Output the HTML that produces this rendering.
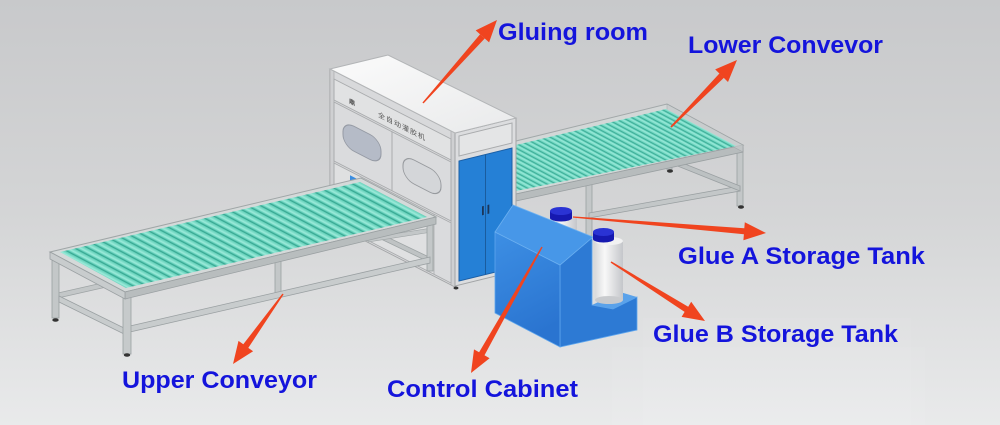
<!DOCTYPE html>
<html><head><meta charset="utf-8">
<style>
html,body{margin:0;padding:0;width:1000px;height:425px;overflow:hidden;background:#d6d7d8}
svg{display:block}
</style></head><body>
<svg width="1000" height="425" viewBox="0 0 1000 425" xmlns="http://www.w3.org/2000/svg">
<defs>
 <linearGradient id="bg" x1="0" y1="0" x2="0" y2="1">
  <stop offset="0" stop-color="#c8c9cb"/>
  <stop offset="0.5" stop-color="#d4d5d6"/>
  <stop offset="1" stop-color="#e9eaeb"/>
 </linearGradient>
 <linearGradient id="topg" x1="0" y1="0" x2="1" y2="1">
  <stop offset="0" stop-color="#fbfbfb"/>
  <stop offset="1" stop-color="#e9eaeb"/>
 </linearGradient>
 <linearGradient id="cabF" x1="0" y1="0" x2="0.3" y2="1">
  <stop offset="0" stop-color="#3d8fe4"/>
  <stop offset="1" stop-color="#2a74d0"/>
 </linearGradient>
 <linearGradient id="tankG" x1="0" y1="0" x2="1" y2="0">
  <stop offset="0" stop-color="#d9dadc"/>
  <stop offset="0.35" stop-color="#f8f8f8"/>
  <stop offset="1" stop-color="#c4c6ca"/>
 </linearGradient>
 <linearGradient id="cyl" x1="0" y1="0" x2="1" y2="0">
  <stop offset="0" stop-color="#4dc2ab"/>
  <stop offset="0.4" stop-color="#9decdb"/>
  <stop offset="1" stop-color="#5fcdb6"/>
 </linearGradient>
 <pattern id="rollL" patternUnits="userSpaceOnUse" width="10" height="100" patternTransform="matrix(0.924,-0.215,0.7,0.37,55,252)">
  <rect width="10" height="100" fill="#3aa893"/>
  <rect x="1.2" width="8.3" height="100" fill="url(#cyl)"/>
 </pattern>
 <pattern id="rollR" patternUnits="userSpaceOnUse" width="10" height="100" patternTransform="matrix(-0.629,0.15,0.73,0.39,667,107)">
  <rect width="10" height="100" fill="#3aa893"/>
  <rect x="1.2" width="8.3" height="100" fill="url(#cyl)"/>
 </pattern>
</defs>

<rect width="1000" height="425" fill="url(#bg)"/>
<rect x="643" y="318" width="268" height="107" fill="#ffffff" opacity="0.06"/>
<rect x="612" y="347" width="313" height="78" fill="#ffffff" opacity="0.05"/>

<!-- ===== RIGHT (LOWER) CONVEYOR ===== -->
<g>
 <rect x="667" y="110" width="5" height="60" fill="#bcc1c2" stroke="#9aa0a2" stroke-width="0.8"/>
 <ellipse cx="670" cy="171" rx="3" ry="1.8" fill="#333"/>
 <rect x="737" y="148" width="6" height="58" fill="#c3c7c8" stroke="#9aa0a2" stroke-width="0.8"/>
 <ellipse cx="741" cy="207" rx="3" ry="1.8" fill="#333"/>
 <rect x="586" y="184" width="6" height="52" fill="#c3c7c8" stroke="#9aa0a2" stroke-width="0.8"/>
 <polygon points="589,213 740,186 740,191 589,218" fill="#c3c7c8" stroke="#9aa0a2" stroke-width="0.8"/>
 <polygon points="670,158 740,186 740,191 670,163" fill="#bcc1c2" stroke="#9aa0a2" stroke-width="0.8"/>
 <polygon points="516,141 667,104 743,145 516,194" fill="#d3d7d7" stroke="#a2a8a9" stroke-width="1"/>
 <polygon points="516,194 743,145 743,152 516,201" fill="#b7bcbd" stroke="#9aa0a2" stroke-width="0.8"/>
 <polygon points="667,104 743,145 743,152 667,111" fill="#c6cacb" stroke="#9aa0a2" stroke-width="0.6" opacity="0.7"/>
 <polygon points="516,145 666,109 736,146 516,191" fill="url(#rollR)"/>
</g>

<!-- ===== GLUING ROOM BOX ===== -->
<g>
 <g transform="translate(330,69) matrix(1,0.512,0,1,0,0)">
  <rect x="0" y="0" width="125" height="154" fill="#d8d9db" stroke="#a2a4a6" stroke-width="1"/>
  <rect x="0" y="0" width="4" height="154" fill="#cfd0d2" stroke="#a2a4a6" stroke-width="0.6"/>
  <rect x="121" y="0" width="4" height="154" fill="#cfd0d2" stroke="#a2a4a6" stroke-width="0.6"/>
  <rect x="4" y="8" width="117" height="21" fill="#e1e2e3" stroke="#a9abad" stroke-width="1"/>
  <rect x="4" y="31" width="58" height="59" fill="#dadbdd" stroke="#a9abad" stroke-width="1"/>
  <rect x="62" y="31" width="59" height="59" fill="#dadbdd" stroke="#a9abad" stroke-width="1"/>
  <rect x="4" y="92" width="117" height="60" fill="#dfe0e1" stroke="#a9abad" stroke-width="1"/>
  <rect x="104" y="92" width="17" height="60" fill="#dadbdd" stroke="#a9abad" stroke-width="0.8"/>
  <rect x="13" y="45" width="38" height="25" rx="11" fill="#b5bbc7" stroke="#959aa4" stroke-width="1"/>
  <rect x="73" y="48" width="38" height="24" rx="11" fill="#d4d6d9" stroke="#979a9e" stroke-width="1"/>
  <rect x="20" y="96" width="9" height="9" fill="#3a8de0"/>
  <text x="19" y="24" font-family="'Noto Sans CJK SC', sans-serif" font-size="6" font-weight="bold" fill="#444">鼎</text>
  <text x="48" y="23" font-family="'Noto Sans CJK SC', sans-serif" font-size="7" fill="#555" letter-spacing="1">全自动灌胶机</text>
 </g>
 <g transform="translate(455,133) matrix(1,-0.246,0,1,0,0)">
  <rect x="0" y="0" width="61" height="153" fill="#dcdddf" stroke="#a2a4a6" stroke-width="1"/>
  <rect x="4" y="4" width="53" height="20" fill="#e4e5e6" stroke="#a9abad" stroke-width="1"/>
  <rect x="4" y="29" width="53" height="120" fill="#2580d6" stroke="#1b5fa6" stroke-width="1"/>
  <line x1="30.5" y1="29" x2="30.5" y2="149" stroke="#1a5c9e" stroke-width="1"/>
  <rect x="27" y="80" width="1.8" height="9" fill="#1b3558"/>
  <rect x="32.5" y="80" width="1.8" height="9" fill="#1b3558"/>
 </g>
 <ellipse cx="456" cy="288" rx="2.5" ry="1.5" fill="#333"/>
 <polygon points="330,69 388,55 516,118 455,133" fill="url(#topg)" stroke="#b3b5b7" stroke-width="1"/>
</g>

<!-- ===== LEFT (UPPER) CONVEYOR ===== -->
<g>
 <polygon points="58,293 362,224 362,229 58,298" fill="#c3c7c8" stroke="#9ea4a5" stroke-width="0.8"/>
 <polygon points="362,225 431,258 431,263 362,230" fill="#bfc3c4" stroke="#9ea4a5" stroke-width="0.8"/>
 <polygon points="368,238 432,228 432,232 368,242" fill="#c3c7c8" stroke="#9ea4a5" stroke-width="0.6"/>
 <rect x="52" y="254" width="7" height="64" fill="#c3c7c8" stroke="#9aa0a2" stroke-width="0.8"/>
 <ellipse cx="55.5" cy="320" rx="3.2" ry="1.8" fill="#333"/>
 <rect x="427" y="219" width="6" height="52" fill="#c3c7c8" stroke="#9aa0a2" stroke-width="0.8"/>
 <rect x="275" y="256" width="6" height="40" fill="#c3c7c8" stroke="#9aa0a2" stroke-width="0.8"/>
 <polygon points="59,296 124,328 124,334 59,302" fill="#c8cccd" stroke="#9aa0a2" stroke-width="0.8"/>
 <polygon points="130,326 430,257 430,263 130,332" fill="#c8cccd" stroke="#9aa0a2" stroke-width="0.8"/>
 <rect x="123" y="291" width="8" height="63" fill="#c6cacb" stroke="#9aa0a2" stroke-width="0.8"/>
 <ellipse cx="127" cy="355" rx="3.2" ry="1.8" fill="#333"/>
 <polygon points="50,252 361,178 436,217 125,292" fill="#d5d9d9" stroke="#a0a6a7" stroke-width="1"/>
 <polygon points="125,292 436,217 436,224 125,299" fill="#b8bdbe" stroke="#9aa0a2" stroke-width="0.8"/>
 <polygon points="50,252 125,292 125,299 50,259" fill="#c8cccd" stroke="#9aa0a2" stroke-width="0.8"/>
 <polygon points="60,252 360,182 427,217 126,288" fill="url(#rollL)"/>
</g>

<!-- ===== TANK A ===== -->
<g>
 <rect x="551" y="217" width="26" height="30" fill="url(#tankG)"/>
 <rect x="550" y="211" width="22" height="7" fill="#1619b0"/>
 <ellipse cx="561" cy="218" rx="11" ry="3.5" fill="#1619b0"/>
 <ellipse cx="561" cy="211" rx="11" ry="4" fill="#2a33d4"/>
</g>

<!-- ===== CONTROL CABINET ===== -->
<g>
 <polygon points="560,265 592,237 592,305 613,309 637,297 637,330 560,347" fill="#2d7ad4" stroke="#5ea6ee" stroke-width="0.8"/>
 <polygon points="592,305 620,292 637,297 613,309" fill="#5aa2ea"/>
 <polygon points="495,232 560,265 560,347 495,313" fill="url(#cabF)" stroke="#5ea6ee" stroke-width="0.8"/>
 <polygon points="495,232 513,205 593,237 560,265" fill="#4797e8" stroke="#6cb0f0" stroke-width="0.8"/>
</g>

<!-- ===== TANK B ===== -->
<g>
 <rect x="595" y="240" width="28" height="60" fill="url(#tankG)"/>
 <ellipse cx="609" cy="300" rx="14" ry="4" fill="#c9cbce"/>
 <ellipse cx="609" cy="241" rx="14" ry="4" fill="#f2f2f2"/>
 <rect x="593" y="232" width="21" height="7" fill="#1619b0"/>
 <ellipse cx="603.5" cy="239" rx="10.5" ry="3.5" fill="#1619b0"/>
 <ellipse cx="603.5" cy="232" rx="10.5" ry="4" fill="#2a33d4"/>
</g>

<!-- ===== ARROWS ===== -->
<g fill="#f0441f">
 <polygon points="423.6,103.4 422.4,102.6 480.1,34.3 489.1,42.4 497,20 475.7,30.4 484.7,38.5"/>
 <polygon points="671.6,127.6 670.4,126.4 719.4,73.5 728.0,82.0 737,60 715.2,69.4 723.8,77.9"/>
 <polygon points="573,216.4 573,217.6 743.9,234.2 743.4,240.2 766,233 744.8,222.2 744.3,228.2"/>
 <polygon points="610.6,262.6 611.4,261.4 688.2,306.7 691.2,301.7 705,321 681.6,316.9 684.6,311.9"/>
 <polygon points="541.4,246.7 542.6,247.3 484.5,355.3 489.6,358.2 471,373 474.0,349.4 479.1,352.3"/>
 <polygon points="282.4,293.6 283.6,294.4 248.3,347.9 253.1,351.3 233,364 238.5,340.9 243.3,344.3"/>
</g>

<!-- ===== LABELS ===== -->
<g font-family="'Liberation Sans', Arial, sans-serif" font-weight="bold" font-size="24" fill="#1414dc">
 <text x="498" y="40" textLength="150" lengthAdjust="spacingAndGlyphs">Gluing room</text>
 <text x="688" y="53" textLength="195" lengthAdjust="spacingAndGlyphs">Lower Convevor</text>
 <text x="678" y="264" textLength="247" lengthAdjust="spacingAndGlyphs">Glue A Storage Tank</text>
 <text x="653" y="342" textLength="245" lengthAdjust="spacingAndGlyphs">Glue B Storage Tank</text>
 <text x="122" y="388" textLength="195" lengthAdjust="spacingAndGlyphs">Upper Conveyor</text>
 <text x="387" y="397" textLength="191" lengthAdjust="spacingAndGlyphs">Control Cabinet</text>
</g>
</svg>
</body></html>
